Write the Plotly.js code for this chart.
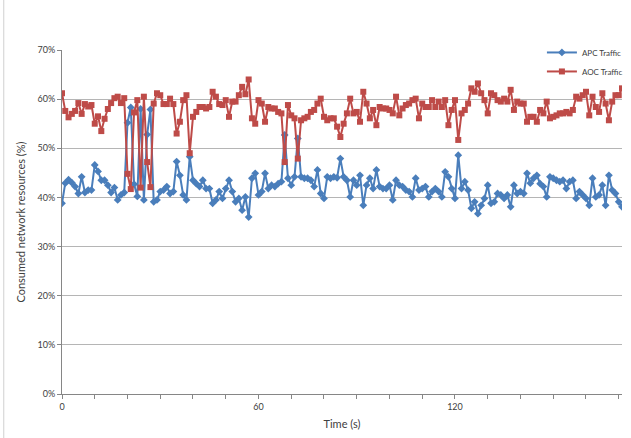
<!DOCTYPE html>
<html>
<head>
<meta charset="utf-8">
<script src="https://cdn.plot.ly/plotly-3.0.1.min.js"></script>
<style>
  html, body { margin: 0; padding: 0; background: #ffffff; }
  #chart { width: 631px; height: 438px; }
</style>
</head>
<body>
<div id="chart"></div>
<script>
// Time index (seconds), one sample per second
var timeSeconds = [];
for (var t = 0; t < 172; t++) { timeSeconds.push(t); }

// APC Traffic (% of network resources)
var apcTraffic = [
  38.8, 42.9, 43.6, 43.0, 42.2, 40.8, 44.2, 41.0, 41.5, 41.5,
  46.6, 45.3, 43.5, 43.5, 42.5, 41.0, 42.0, 39.5, 40.5, 41.0,
  55.2, 58.3, 42.7, 40.2, 58.0, 39.5, 52.8, 57.9,
  39.1, 39.5, 41.2, 41.5, 42.2, 40.8, 41.2, 47.3, 44.5, 40.5,
  39.5, 48.3, 43.5, 42.8, 42.2, 43.5, 41.8, 41.8, 38.8, 39.5,
  41.2, 39.8, 41.8, 43.5, 41.2, 39.1, 39.8, 37.4, 40.1, 36.0,
  43.9, 44.9, 40.5, 41.2, 44.9, 41.8, 42.5, 42.2, 42.8, 43.2,
  52.7, 43.9, 42.5, 44.2, 52.0, 44.2, 43.9, 43.9, 43.5, 42.2,
  45.6, 40.8, 39.8, 44.2, 43.9, 44.2,
  44.0, 47.9, 44.2, 43.5, 40.1, 43.5, 42.5, 44.5, 38.4, 42.5,
  43.9, 41.8, 45.6, 42.2, 41.8, 41.8, 42.5, 39.5, 43.5, 42.5,
  42.2, 41.5, 41.2, 40.1, 43.9, 41.5, 41.8, 42.2, 40.1, 41.2,
  41.8,
  41.2, 40.1, 45.2, 44.2, 41.8, 39.8, 48.6, 41.8, 43.2, 41.5,
  37.8, 39.1, 36.7, 38.4, 39.8, 42.5, 38.8, 39.1, 40.8, 40.5,
  39.8, 40.5, 38.1, 42.5, 40.8, 41.2, 40.8, 44.9, 42.9,
  43.9, 44.5, 42.8, 42.2, 40.1, 44.2, 43.9, 43.5, 43.2, 43.5,
  41.8, 43.2, 43.5, 39.8, 41.2, 40.5, 39.8, 38.4, 43.9, 40.1,
  40.5, 42.5, 38.4, 44.5, 41.5, 40.8, 39.1, 38.1
];

// AOC Traffic (% of network resources)
var aocTraffic = [
  61.2, 57.6, 56.3, 57.0, 57.6, 59.2, 57.0, 59.0, 58.5, 58.8,
  55.0, 56.5, 53.5, 56.0, 58.0, 59.2, 60.2, 60.5, 59.2, 60.2,
  44.8, 41.7, 57.3, 59.8, 42.0, 60.5, 47.2, 42.1,
  59.1, 61.2, 60.8, 59.0, 59.0, 60.1, 59.0, 53.0, 55.4, 59.8,
  60.8, 49.0, 56.4, 57.4, 58.4, 58.4, 58.1, 58.4, 61.5, 60.5,
  59.0, 58.8, 59.8, 56.4, 59.5, 59.5, 60.8, 62.5, 61.0, 64.0,
  56.1, 55.0, 59.8, 59.1, 55.4, 58.4, 58.1, 58.1, 57.4, 57.1,
  47.2, 58.8, 56.7, 56.1, 47.9, 55.7, 56.1, 56.4, 57.4, 57.8,
  59.1, 60.1, 56.4, 55.7, 56.1, 56.1,
  54.4, 52.3, 55.0, 57.1, 60.1, 57.1, 57.4, 55.4, 61.5, 59.1,
  56.1, 57.8, 54.7, 58.4, 58.1, 58.1, 57.8, 57.1, 60.5, 56.7,
  58.1, 58.8, 59.1, 59.8, 60.1, 56.1, 59.1, 58.4, 58.4, 59.8,
  58.4,
  59.5, 58.4, 59.8, 54.7, 57.8, 59.8, 51.7, 57.1, 57.8, 59.1,
  62.2, 61.5, 63.2, 61.2, 59.8, 57.1, 61.2, 60.8, 59.8, 59.5,
  60.1, 59.5, 61.9, 57.8, 59.5, 59.1, 59.1, 55.4, 56.4,
  56.4, 55.4, 57.8, 57.1, 59.5, 56.1, 56.4, 56.7, 57.1, 57.1,
  57.4, 57.1, 57.8, 60.5, 60.1, 60.8, 61.5, 56.7, 60.5, 58.4,
  57.4, 61.2, 59.1, 55.7, 59.5, 60.8, 60.8, 62.2
];

var xTickValues = [0, 60, 120];
var xTickLabels = ['0', '60', '120'];
var seriesNames = ['APC Traffic', 'AOC Traffic'];

function toFraction(arr) { return arr.map(function (v) { return v / 100; }); }

var FONT = 'Lato, "Open Sans", "Liberation Sans", sans-serif';

var traces = [
  {
    x: timeSeconds, y: toFraction(apcTraffic), name: seriesNames[0],
    type: 'scatter', mode: 'lines+markers',
    line: { color: '#4a7ebb', width: 2 },
    marker: { symbol: 'diamond', size: 6, color: '#4a7ebb' }
  },
  {
    x: timeSeconds, y: toFraction(aocTraffic), name: seriesNames[1],
    type: 'scatter', mode: 'lines+markers',
    line: { color: '#be4b48', width: 2 },
    marker: { symbol: 'square', size: 6, color: '#be4b48' }
  }
];

var layout = {
  width: 631, height: 438,
  margin: { l: 62, r: 9, t: 50, b: 44, autoexpand: false },
  paper_bgcolor: '#ffffff', plot_bgcolor: '#ffffff',
  font: { family: FONT, size: 9, color: '#404040' },
  showlegend: true,
  legend: {
    x: 0.857, xanchor: 'left', y: 1.035, yanchor: 'top',
    bgcolor: 'rgba(255,255,255,0)', font: { size: 8, family: FONT, color: '#404040' },
    itemwidth: 30, tracegroupgap: 3
  },
  xaxis: {
    range: [0, 171],
    tickvals: xTickValues, ticktext: xTickLabels,
    ticks: 'outside', ticklen: 4, tickcolor: '#868686',
    minor: { dtick: 10, tick0: 0, ticks: 'outside', ticklen: 4, tickcolor: '#868686', showgrid: false },
    showline: true, linecolor: '#868686', linewidth: 1,
    showgrid: false, zeroline: false,
    tickfont: { size: 9, family: FONT, color: '#404040' },
    title: { text: 'Time (s)', font: { size: 11, family: FONT, color: '#404040' }, standoff: 9 }
  },
  yaxis: {
    range: [0, 0.7], dtick: 0.1, tick0: 0, tickformat: '.0%',
    ticks: 'outside', ticklen: 4, tickcolor: '#868686',
    showline: true, linecolor: '#868686', linewidth: 1,
    showgrid: true, gridcolor: '#b5b5b5', gridwidth: 1, zeroline: false,
    tickfont: { size: 9, family: FONT, color: '#404040' },
    title: { text: 'Consumed network resources (%)', font: { size: 11, family: FONT, color: '#404040' }, standoff: 9 }
  },
  shapes: [
    { type: 'line', xref: 'paper', yref: 'paper', x0: -0.104, x1: -0.104, y0: -0.2, y1: 1.2,
      line: { color: '#d0d0d0', width: 1 } }
  ]
};

Plotly.newPlot('chart', traces, layout, { displayModeBar: false, staticPlot: true });
</script>
</body>
</html>
